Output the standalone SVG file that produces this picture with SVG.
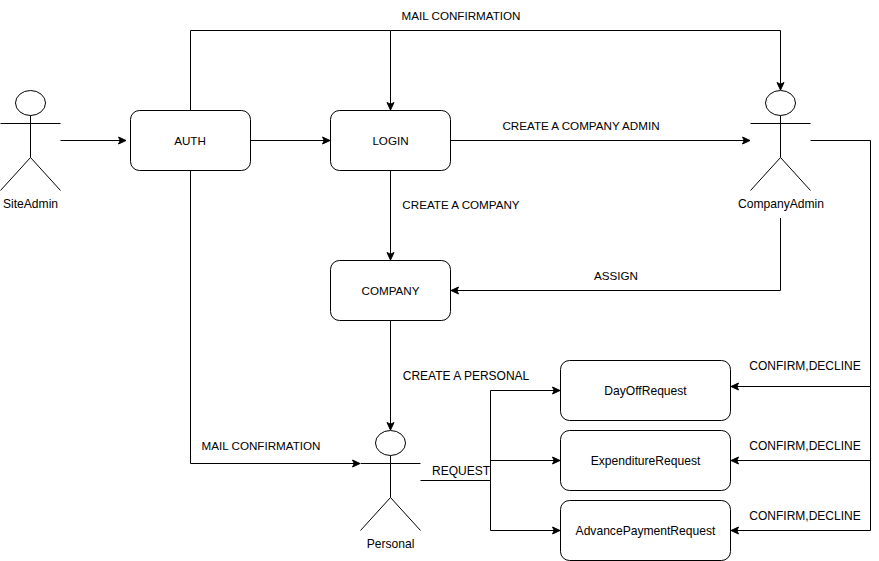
<svg xmlns="http://www.w3.org/2000/svg" width="879" height="561" viewBox="0 0 879 561">
<style>
text{font-family:"Liberation Sans",Arial,Helvetica,sans-serif;font-size:12.1px;fill:#000}
.u{font-size:11.65px}
.w{font-size:12px}
.m{text-anchor:middle}
.n{fill:#fff;stroke:#000;stroke-width:1}
.a{fill:none;stroke:#000;stroke-width:1}
.c{fill:none;stroke:#000;stroke-width:1;marker-end:url(#h)}
</style>
<defs>
<marker id="h" markerUnits="userSpaceOnUse" markerWidth="10" markerHeight="10" refX="8.5" refY="5" orient="auto" overflow="visible"><path d="M1 1.5L8.500 5L1 8.500L2.750 5Z" fill="#000" stroke="#000"/></marker>
<g id="actor"><ellipse cx="30" cy="12.500" rx="15" ry="12.500" class="n"/><path class="a" d="M30 25V67M0 33H60M30 67L0 100M30 67L60 100"/></g>
</defs>
<rect width="879" height="561" fill="#fff"/>
<g id="connectors">
<path class="c" d="M60.500 140.500H126"/>
<path class="c" d="M250.500 140.500H330"/>
<path class="c" d="M190.500 110V30.500H390.500V110"/>
<path class="c" d="M390.500 30.500H780.500V90"/>
<path class="c" d="M190.500 170V463.500H360"/>
<path class="c" d="M450.500 140.500H750"/>
<path class="c" d="M390.500 170V260"/>
<path class="c" d="M780.500 218V290.500H451"/>
<path class="c" d="M390.500 320V430"/>
<path class="c" d="M420.500 480.500H490.500V390.500H560"/>
<path class="c" d="M490.500 460.500H560"/>
<path class="c" d="M490.500 480.500V530.500H560"/>
<path class="a" d="M810.500 140.500H870.500V530.500"/>
<path class="c" d="M870.500 386.500H731"/>
<path class="c" d="M870.500 460.500H731"/>
<path class="c" d="M870.500 530.500H731"/>
</g>
<g id="siteadmin"><use href="#actor" x="0.500" y="90.500"/><text class="m" x="30.500" y="208">SiteAdmin</text></g>
<g id="auth"><rect class="n" x="130.500" y="110.500" width="120" height="60" rx="9"/><text class="m u" x="190" y="145">AUTH</text></g>
<g id="login"><rect class="n" x="330.500" y="110.500" width="120" height="60" rx="9"/><text class="m u" x="390.500" y="145">LOGIN</text></g>
<g id="company"><rect class="n" x="330.500" y="260.500" width="120" height="60" rx="9"/><text class="m u" x="390.500" y="295">COMPANY</text></g>
<g id="companyadmin"><use href="#actor" x="750.500" y="90.500"/><text class="m" x="781" y="208">CompanyAdmin</text></g>
<g id="personal"><use href="#actor" x="360.500" y="430.500"/><text class="m" x="390.500" y="548">Personal</text></g>
<g id="dayoff"><rect class="n" x="560.500" y="360.500" width="170" height="60" rx="9"/><text class="m" x="645.500" y="395">DayOffRequest</text></g>
<g id="expenditure"><rect class="n" x="560.500" y="430.500" width="170" height="60" rx="9"/><text class="m" x="645.500" y="465">ExpenditureRequest</text></g>
<g id="advance"><rect class="n" x="560.500" y="500.500" width="170" height="60" rx="9"/><text class="m" x="645.500" y="535">AdvancePaymentRequest</text></g>
<g id="labels">
<text class="m u" x="461" y="20">MAIL CONFIRMATION</text>
<text class="m u" x="581" y="130">CREATE A COMPANY ADMIN</text>
<text class="m u" x="461" y="209">CREATE A COMPANY</text>
<text class="m u" x="616" y="280">ASSIGN</text>
<text class="m w" x="466" y="380">CREATE A PERSONAL</text>
<text class="m u" x="261" y="450">MAIL CONFIRMATION</text>
<text class="m w" x="461" y="475">REQUEST</text>
<text class="m w" x="805" y="370">CONFIRM,DECLINE</text>
<text class="m w" x="805" y="450">CONFIRM,DECLINE</text>
<text class="m w" x="805" y="520">CONFIRM,DECLINE</text>
</g>
</svg>
